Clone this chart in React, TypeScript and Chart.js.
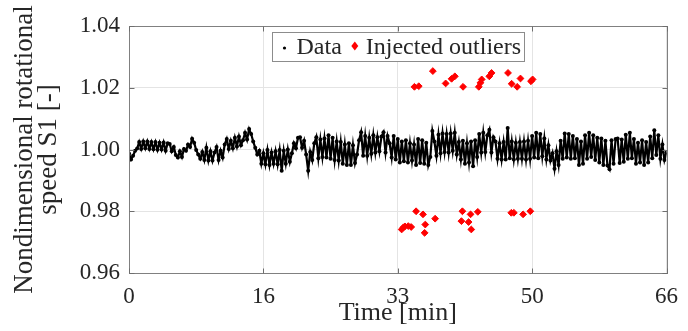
import React, { useEffect, useRef } from 'react';
import { Chart, registerables } from 'chart.js';

Chart.register(...registerables);

// Sampling interval of the measured series (minutes)
const sampleIntervalMin = 0.25;

// Nondimensional rotational speed S1, every 0.25 min (t = 0 ... 66)
const speedS1 = [
  0.9987, 0.9968, 0.9980, 0.9996, 1.0003, 1.0024, 1.0002, 1.0026, // 0-2
  1.0004, 1.0026, 1.0002, 1.0024, 1.0001, 1.0024, 0.9999, 1.0022, // 2-4
  1.0000, 1.0023, 0.9996, 1.0020, 1.0018, 0.9994, 1.0008, 0.9982, // 4-6
  0.9974, 0.9994, 0.9976, 1.0002, 0.9996, 1.0016, 1.0008, 1.0035, // 6-8
  1.0022, 0.9998, 0.9984, 0.9970, 0.9992, 0.9966, 1.0006, 0.9964, // 8-10
  0.9994, 0.9964, 0.9990, 1.0008, 0.9966, 0.9996, 0.9974, 1.0016, // 10-12
  1.0034, 1.0002, 1.0028, 1.0004, 1.0038, 1.0010, 1.0042, 1.0014, // 12-14
  1.0030, 1.0054, 1.0032, 1.0066, 1.0050, 1.0026, 1.0006, 0.9984, // 14-16
  0.9996, 0.9954, 0.9988, 0.9952, 0.9998, 0.9950, 0.9990, 0.9954, // 16-18
  0.9994, 0.9952, 0.9998, 0.9931, 0.9996, 0.9954, 1.0000, 0.9960, // 18-20
  0.9988, 1.0020, 1.0004, 1.0038, 1.0040, 1.0006, 1.0028, 0.9984, // 20-22
  0.9931, 0.9992, 0.9966, 1.0020, 1.0040, 0.9972, 1.0032, 0.9976, // 22-24
  1.0036, 0.9974, 1.0046, 0.9970, 1.0038, 0.9966, 1.0026, 0.9964, // 24-26
  1.0024, 0.9954, 1.0016, 0.9950, 1.0020, 0.9950, 1.0014, 0.9956, // 26-28
  0.9984, 1.0030, 1.0056, 0.9980, 1.0044, 0.9980, 1.0038, 0.9986, // 28-30
  1.0046, 0.9990, 1.0040, 0.9994, 1.0042, 1.0056, 0.9990, 1.0044, // 30-32
  1.0020, 0.9974, 1.0044, 0.9968, 1.0034, 0.9958, 1.0026, 0.9962, // 32-34
  1.0030, 0.9958, 1.0020, 0.9964, 1.0016, 0.9950, 1.0034, 0.9956, // 34-36
  1.0030, 0.9954, 1.0022, 0.9950, 0.9976, 1.0060, 1.0026, 0.9980, // 36-38
  1.0048, 0.9988, 1.0052, 0.9992, 1.0050, 0.9990, 1.0052, 0.9996, // 38-40
  1.0054, 0.9984, 1.0024, 0.9968, 1.0028, 0.9954, 1.0020, 0.9958, // 40-42
  1.0026, 0.9946, 1.0030, 0.9976, 1.0050, 0.9990, 1.0054, 0.9992, // 42-44
  1.0046, 1.0064, 0.9990, 1.0040, 1.0026, 0.9970, 1.0020, 0.9968, // 44-46
  1.0024, 0.9968, 1.0070, 0.9972, 1.0026, 0.9968, 1.0022, 0.9970, // 46-48
  1.0024, 0.9970, 1.0026, 0.9968, 1.0028, 0.9970, 1.0044, 0.9974, // 48-50
  1.0054, 0.9972, 1.0050, 0.9978, 1.0036, 0.9968, 1.0014, 0.9964, // 50-52
  0.9988, 0.9938, 0.9994, 0.9950, 1.0028, 0.9970, 1.0052, 0.9974, // 52-54
  1.0050, 0.9970, 1.0044, 0.9972, 1.0034, 0.9950, 1.0026, 0.9954, // 54-56
  1.0046, 0.9970, 1.0054, 0.9976, 1.0046, 0.9966, 1.0038, 0.9958, // 56-58
  1.0036, 0.9950, 1.0028, 0.9948, 0.9936, 1.0030, 0.9954, 1.0034, // 58-60
  1.0036, 0.9956, 1.0032, 0.9960, 1.0048, 0.9970, 1.0054, 0.9972, // 60-62
  1.0034, 0.9954, 1.0022, 0.9958, 1.0030, 0.9950, 1.0024, 0.9958, // 62-64
  1.0042, 0.9972, 1.0062, 0.9982, 1.0046, 0.9970, 1.0016, 0.9966, // 64-66
  0.9990,
];

// Injected outliers: time [min] and value
const outlierTimeMin = [
  35.05, 35.58, 37.31, 38.88, 39.61, 40.01, 41.02, 42.95, 43.15, 43.31,
  44.24, 44.52, 46.54, 46.98, 47.66, 48.07, 49.36, 49.56,
  33.48, 33.70, 33.88, 34.29, 34.65, 35.25, 36.10, 36.38, 36.30, 37.59,
  40.94, 40.82, 41.94, 41.70, 42.03, 42.83, 46.94, 47.26, 48.39, 49.28,
];
const outlierSpeed = [
  1.0203, 1.0205, 1.0254, 1.0214, 1.0229, 1.0237, 1.0203, 1.0203, 1.0216, 1.0227,
  1.0237, 1.0248, 1.0248, 1.0213, 1.0203, 1.0230, 1.0221, 1.0227,
  0.9741, 0.9748, 0.9751, 0.9752, 0.9749, 0.9800, 0.9790, 0.9757, 0.9730, 0.9776,
  0.9800, 0.9768, 0.9790, 0.9765, 0.9741, 0.9798, 0.9795, 0.9795, 0.9790, 0.9800,
];

const xTickValues = [0, 16.5, 33, 49.5, 66];
const xTickLabels = ['0', '16', '33', '50', '66'];
const yTickValues = [0.96, 0.98, 1.0, 1.02, 1.04];
const yTickLabels = ['0.96', '0.98', '1.00', '1.02', '1.04'];
const legendLabels = ['Data', 'Injected outliers'];
const xTitle = 'Time [min]';
const yTitle = ['Nondimensional rotational', 'speed S1 [-]'];

const FAMILY = "'Liberation Serif', 'Times New Roman', serif";
const TEXT = '#262626';
const AXIS = '#808080';
const GRID = '#e4e4e4';
const RED = '#ff0000';

const framePlugin = {
  id: 'matlabFrame',
  afterDatasetsDraw(chart: any) {
    const { ctx, chartArea } = chart;
    const l = Math.round(chartArea.left) + 0.5;
    const r = Math.round(chartArea.right) + 0.5;
    const t = Math.round(chartArea.top) + 0.5;
    const b = Math.round(chartArea.bottom) + 0.5;
    ctx.save();
    ctx.strokeStyle = AXIS;
    ctx.lineWidth = 1;
    ctx.strokeRect(l, t, r - l, b - t);
    ctx.strokeStyle = '#6e6e6e';
    ctx.beginPath();
    const xs = chart.scales.x;
    const ys = chart.scales.y;
    xTickValues.forEach((v) => {
      const px = Math.round(xs.getPixelForValue(v)) + 0.5;
      ctx.moveTo(px, b); ctx.lineTo(px, b - 5);
      ctx.moveTo(px, t); ctx.lineTo(px, t + 5);
    });
    yTickValues.forEach((v) => {
      const py = Math.round(ys.getPixelForValue(v)) + 0.5;
      ctx.moveTo(l, py); ctx.lineTo(l + 5, py);
      ctx.moveTo(r, py); ctx.lineTo(r - 5, py);
    });
    ctx.stroke();
    ctx.restore();
  },
};

const legendPlugin = {
  id: 'boxLegend',
  afterDraw(chart: any) {
    const { ctx, chartArea } = chart;
    ctx.save();
    ctx.font = `24px ${FAMILY}`;
    const w1 = ctx.measureText(legendLabels[0]).width;
    const w2 = ctx.measureText(legendLabels[1]).width;
    const inner = 12 + 12 + w1 + 13 + 11 + w2 + 3;
    const width = Math.round(inner);
    const cx = (chartArea.left + chartArea.right) / 2;
    const left = Math.round(cx - width / 2) + 0.5;
    const top = 32.5;
    const h = 29;
    const cy = top + h / 2 + 1;
    ctx.fillStyle = '#ffffff';
    ctx.fillRect(left, top, width, h);
    ctx.strokeStyle = '#8c8c8c';
    ctx.lineWidth = 1;
    ctx.strokeRect(left, top, width, h);
    const dotX = left + 12;
    ctx.fillStyle = '#000000';
    ctx.beginPath();
    ctx.arc(dotX, cy, 1.6, 0, Math.PI * 2);
    ctx.fill();
    ctx.fillStyle = TEXT;
    ctx.textBaseline = 'middle';
    ctx.textAlign = 'left';
    const t1 = dotX + 12;
    ctx.fillText(legendLabels[0], t1, cy);
    const dx = t1 + w1 + 13;
    const dy = cy - 2;
    ctx.fillStyle = RED;
    ctx.beginPath();
    ctx.moveTo(dx, dy - 4.5);
    ctx.lineTo(dx + 3.5, dy);
    ctx.lineTo(dx, dy + 4.5);
    ctx.lineTo(dx - 3.5, dy);
    ctx.closePath();
    ctx.fill();
    ctx.fillStyle = TEXT;
    ctx.fillText(legendLabels[1], dx + 11, cy);
    ctx.restore();
  },
};

export default function App() {
  const canvasRef = useRef<HTMLCanvasElement | null>(null);

  useEffect(() => {
    const canvas = canvasRef.current;
    if (!canvas) return;
    const dataPoints = speedS1.map((v, i) => ({ x: i * sampleIntervalMin, y: v }));
    const outlierPoints = outlierTimeMin.map((t, i) => ({ x: t, y: outlierSpeed[i] }));

    const chart = new Chart(canvas, {
      type: 'scatter',
      data: {
        datasets: [
          {
            label: legendLabels[0],
            data: dataPoints,
            showLine: true,
            borderWidth: 2.2,
            pointStyle: 'circle',
            pointRadius: 2.0,
            pointBorderWidth: 0,
            backgroundColor: '#000000',
            borderColor: '#000000',
          },
          {
            label: legendLabels[1],
            data: outlierPoints,
            pointStyle: 'rectRot',
            pointRadius: 3.4,
            pointBorderWidth: 1,
            backgroundColor: RED,
            borderColor: RED,
          },
        ],
      },
      options: {
        responsive: false,
        devicePixelRatio: 1,
        animation: false,
        events: [],
        layout: { padding: { left: 0, top: 26, right: 13, bottom: 0 } },
        plugins: {
          legend: { display: false },
          tooltip: { enabled: false },
        },
        scales: {
          x: {
            type: 'linear',
            min: 0,
            max: 66,
            afterFit: (s: any) => { s.height = 58; },
            afterBuildTicks: (s: any) => { s.ticks = xTickValues.map((v) => ({ value: v })); },
            grid: { color: GRID, lineWidth: 1, drawTicks: false },
            border: { display: false },
            ticks: {
              padding: 10,
              color: TEXT,
              font: { family: FAMILY, size: 23 },
              maxRotation: 0,
              callback: (v: any) => {
                const i = xTickValues.indexOf(Number(v));
                return i >= 0 ? xTickLabels[i] : '';
              },
            },
            title: {
              display: true,
              text: xTitle,
              color: TEXT,
              font: { family: FAMILY, size: 26 },
              padding: { top: 0, bottom: 2 },
            },
          },
          y: {
            type: 'linear',
            min: 0.96,
            max: 1.04,
            afterFit: (s: any) => { s.width = 129; },
            afterBuildTicks: (s: any) => { s.ticks = yTickValues.map((v) => ({ value: v })); },
            grid: { color: GRID, lineWidth: 1, drawTicks: false },
            border: { display: false },
            ticks: {
              padding: 9,
              color: TEXT,
              font: { family: FAMILY, size: 23 },
              callback: (v: any) => {
                const i = yTickValues.findIndex((t) => Math.abs(t - Number(v)) < 1e-9);
                return i >= 0 ? yTickLabels[i] : '';
              },
            },
            title: {
              display: true,
              text: yTitle,
              color: TEXT,
              font: { family: FAMILY, size: 27, lineHeight: '24px' },
              padding: { top: 12.5, bottom: 0 },
            },
          },
        },
      },
      plugins: [framePlugin, legendPlugin],
    } as any);

    return () => chart.destroy();
  }, []);

  return (
    <canvas
      ref={canvasRef}
      width={688}
      height={331}
      style={{ position: 'absolute', left: 0, top: 0, width: 688, height: 331 }}
    />
  );
}
